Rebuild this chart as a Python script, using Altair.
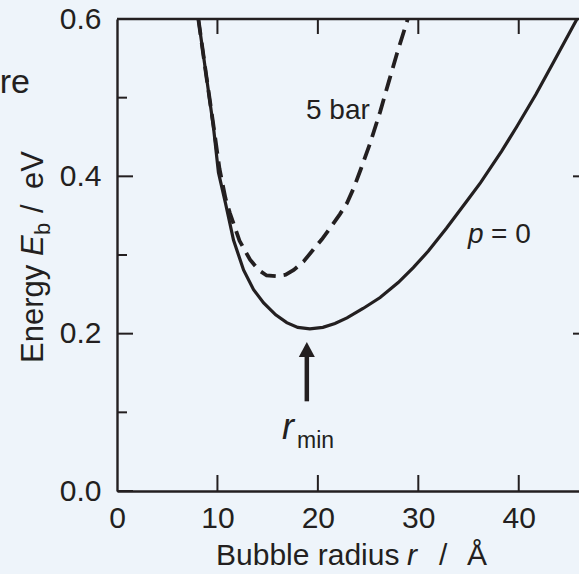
import altair as alt
import pandas as pd

# ---------------- data ----------------
r_p0 = [8.1, 8.9, 9.6, 10.1, 10.8, 11.6, 12.6, 13.6, 14.6, 15.8, 16.9, 18.0, 19.2,
        20.5, 21.7, 22.9, 24.5, 26.2, 28.0, 29.5, 31.0, 32.8, 34.8, 36.2, 38.3,
        39.8, 41.7, 43.5, 45.8]
E_p0 = [0.600, 0.527, 0.463, 0.405, 0.366, 0.319, 0.281, 0.256, 0.239, 0.224, 0.214,
        0.208, 0.206, 0.208, 0.213, 0.220, 0.232, 0.246, 0.265, 0.284, 0.305, 0.334,
        0.368, 0.392, 0.432, 0.463, 0.504, 0.546, 0.600]

r_5bar = [8.1, 8.9, 9.6, 10.2, 10.8, 11.25, 12.2, 13.25, 14.1, 14.9, 15.9, 16.8, 17.6,
          18.6, 19.55, 20.4, 21.2, 22.2, 22.9, 23.6, 24.3, 25.2, 26.2, 27.1, 27.9, 28.95]
E_5bar = [0.600, 0.527, 0.465, 0.410, 0.372, 0.353, 0.318, 0.294, 0.281, 0.274, 0.273,
          0.275, 0.281, 0.292, 0.307, 0.320, 0.334, 0.352, 0.366, 0.386, 0.410, 0.442,
          0.482, 0.522, 0.557, 0.600]

x_ticks = [0, 10, 20, 30, 40]
x_inner_ticks = [10, 20, 30, 40]
y_major = [0.0, 0.2, 0.4, 0.6]
y_minor = [0.1, 0.3, 0.5]
y_right_ticks = [0.2, 0.4]

arrow_x = [18.9]
arrow_tail = [0.114]
arrow_shaft_top = [0.176]
arrow_head = [0.180]

X_MAX = 46
Y_MAX = 0.6

# ---------------- styling ----------------
W, H = 462, 472
INK = "#231f20"
FONT = "Liberation Sans"
BG = "#eef4fa"

xs = alt.Scale(domain=[0, X_MAX], nice=False, zero=False)
ys = alt.Scale(domain=[0, Y_MAX], nice=False, zero=False)

xaxis = alt.Axis(values=x_ticks, format="d", labelFlush=False, ticks=False, grid=False,
                 domainColor=INK, domainWidth=2.4, labelFontSize=30, labelFont=FONT,
                 labelColor=INK, labelPadding=12, title=None)
yaxis = alt.Axis(values=y_major, format=".1f", labelFlush=False, ticks=False, grid=False,
                 domainColor=INK, domainWidth=2.4, labelFontSize=30, labelFont=FONT,
                 labelColor=INK, labelPadding=16, title=None)


def X(f):
    return alt.X(f, type="quantitative", scale=xs, axis=xaxis)


def Y(f):
    return alt.Y(f, type="quantitative", scale=ys, axis=yaxis)


df_p0 = pd.DataFrame({"r": r_p0, "E": E_p0})
df_5 = pd.DataFrame({"r": r_5bar, "E": E_5bar})

solid = alt.Chart(df_p0).mark_line(color=INK, strokeWidth=3.2, clip=True).encode(
    x=X("r"), y=Y("E"))
dashed = alt.Chart(df_5).mark_line(color=INK, strokeWidth=3.8, strokeDash=[16, 8],
                                   clip=True).encode(x=X("r"), y=Y("E"))

# inward ticks and frame
left_major = alt.Chart(pd.DataFrame({"v": y_major})).mark_rule(color=INK, strokeWidth=2).encode(
    y=Y("v"), x=alt.value(0), x2=alt.value(16))
left_minor = alt.Chart(pd.DataFrame({"v": y_minor})).mark_rule(color=INK, strokeWidth=2).encode(
    y=Y("v"), x=alt.value(0), x2=alt.value(10))
bottom_ticks = alt.Chart(pd.DataFrame({"v": x_inner_ticks})).mark_rule(color=INK, strokeWidth=2).encode(
    x=X("v"), y=alt.value(H), y2=alt.value(H - 16))
top_ticks = alt.Chart(pd.DataFrame({"v": x_inner_ticks})).mark_rule(color=INK, strokeWidth=2).encode(
    x=X("v"), y=alt.value(0), y2=alt.value(15))
right_ticks = alt.Chart(pd.DataFrame({"v": y_right_ticks})).mark_rule(color=INK, strokeWidth=2).encode(
    y=Y("v"), x=alt.value(W - 6), x2=alt.value(W))
top_line = alt.Chart(pd.DataFrame({"v": [Y_MAX]})).mark_rule(color=INK, strokeWidth=2.4).encode(
    y=Y("v"), x=alt.value(0), x2=alt.value(W))

# arrow
df_arrow = pd.DataFrame({"x": arrow_x, "y1": arrow_tail, "y2": arrow_shaft_top, "yh": arrow_head})
shaft = alt.Chart(df_arrow).mark_rule(color=INK, strokeWidth=4.5).encode(
    x=X("x"), y=Y("y1"), y2="y2:Q")
head = alt.Chart(df_arrow).mark_point(shape="M0,-1L1.07,1L-1.07,1Z", size=225, filled=True,
                                      color=INK, opacity=1, strokeWidth=0).encode(
    x=X("x"), y=Y("yh"))


def txt(s, x, y, size, italic=False, angle=0, align="left"):
    kw = dict(font=FONT, fontSize=size, color=INK, align=align, baseline="alphabetic")
    if italic:
        kw["fontStyle"] = "italic"
    if angle:
        kw["angle"] = angle
    return alt.Chart(pd.DataFrame({"t": [s]})).mark_text(**kw).encode(
        text="t:N", x=alt.value(x), y=alt.value(y))


texts = [
    # x title
    txt("Bubble radius", 99, 546, 30),
    txt("r", 290, 546, 30, italic=True),
    txt("/", 322, 546, 30),
    txt("Å", 350, 546, 30),
    # y title (rotated)
    txt("Energy", -74, 344, 31, angle=270),
    txt("E", -74, 237, 31, italic=True, angle=270),
    txt("b", -67, 216, 22, angle=270),
    txt("/", -74, 194, 31, angle=270),
    txt("eV", -74, 170, 31, angle=270),
    # annotations
    txt("5 bar", 189, 100, 28),
    txt("p", 351, 224, 28, italic=True),
    txt("= 0", 374, 224, 28),
    txt("r", 165, 420, 36, italic=True),
    txt("min", 180, 429, 23),
    # word cut by the left edge of the picture
    txt("re", -87, 74, 34, align="right"),
]

chart = alt.layer(
    solid, dashed, left_major, left_minor, bottom_ticks, top_ticks, right_ticks, top_line,
    shaft, head, *texts
).properties(
    width=W, height=H,
    padding={"left": 117, "top": 19, "right": 0, "bottom": 83},
    autosize=alt.AutoSizeParams(type="none"),
    background=BG,
).configure_view(stroke=None)

chart.save("out.html", embed_options={"renderer": "svg", "actions": False})
